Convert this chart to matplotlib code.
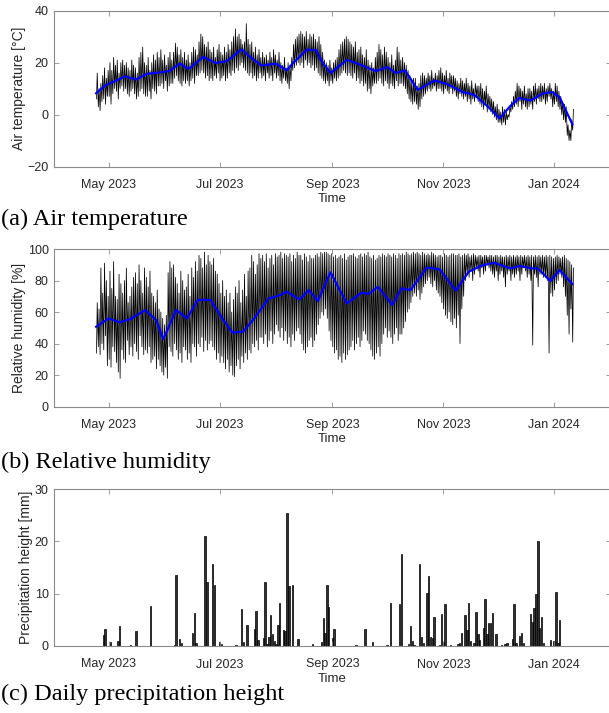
import numpy as np
import pandas as pd
import matplotlib
matplotlib.use("Agg")
import matplotlib.pyplot as plt
import matplotlib.dates as mdates

START = "2023-04-24"

# daily air temperature maximum / minimum [degC], Apr 24 2023 .. Jan 11 2024
temp_max = [
    16, 10, 12, 15, 18, 14, 17,
    20, 17, 22, 19, 21, 16, 20,
    21, 19, 20, 18, 17, 21, 19,
    18, 16, 22, 24, 26, 20, 19,
    22, 17, 20, 23, 21, 24, 22,
    25, 21, 23, 19, 22, 24, 21,
    24, 27.5, 26, 23, 25, 22, 24,
    21, 23, 20, 24, 26, 25, 23,
    28, 31, 30, 27, 26, 28, 25,
    24, 26, 22, 25, 27, 24, 23,
    26, 24, 27, 25, 28, 30, 33,
    30, 31, 29, 27, 28, 35, 29,
    27, 28, 24, 26, 23, 25, 22,
    24, 22, 23, 21, 24, 22, 25,
    23, 21, 24, 20, 19, 22, 18,
    20, 19, 22, 27, 29, 30, 31,
    32, 31, 30, 32, 29, 31, 30,
    31, 29, 28, 30, 27, 24, 21,
    20, 19, 21, 18, 20, 21, 22,
    25, 27, 28, 29, 30, 29, 28,
    27, 26, 28, 24, 25, 26, 23,
    22, 25, 21, 19, 20, 18, 22,
    24, 27, 25, 23, 26, 24, 22,
    20, 23, 19, 21, 26, 24, 21,
    22, 20, 19, 17, 15, 13, 14,
    14, 11, 12, 15, 16, 15, 14,
    16, 15, 17, 14, 16, 15, 17,
    18, 16, 15, 17, 14, 16, 15,
    15, 14, 13, 12, 14, 13, 12,
    14, 12, 11, 13, 10, 12, 11,
    11, 12, 10, 9, 11, 8, 7,
    6, 5, 3, 4, 2, 1, 3,
    2, 1, 0, 3, 5, 7, 9,
    12, 11, 10, 9, 11, 8, 10,
    10, 9, 11, 12, 10, 11, 12,
    11, 12, 10, 11, 12, 10, 9,
    12, 11, 9, 7, 5, 4, 3,
    -4, -6, -2, 2,
]
temp_min = [
    6, 3, 1.5, 5, 6, 4, 7,
    7, 4, 8, 10, 9, 6, 10,
    11, 9, 10, 8, 7, 9, 10,
    8, 6, 7, 9, 10, 8, 7,
    7, 9, 6, 10, 9, 8, 11,
    11, 12, 10, 13, 9, 11, 12,
    12, 14, 15, 13, 12, 11, 13,
    12, 13, 11, 13, 14, 12, 15,
    15, 16, 17, 16, 14, 15, 13,
    14, 13, 15, 14, 16, 13, 14,
    15, 13, 14, 16, 15, 17, 16,
    18, 17, 19, 20, 18, 17, 16,
    15, 16, 14, 15, 13, 14, 16,
    14, 15, 13, 16, 14, 15, 13,
    16, 14, 15, 13, 12, 14, 13,
    12, 10, 13, 17, 18, 19, 20,
    19, 20, 18, 21, 19, 20, 18,
    19, 17, 18, 16, 15, 14, 13,
    12, 13, 11, 13, 12, 14, 13,
    14, 15, 16, 17, 16, 15, 16,
    15, 14, 16, 13, 14, 12, 13,
    11, 12, 9, 10, 8, 11, 12,
    12, 13, 14, 12, 11, 13, 12,
    10, 12, 11, 10, 13, 11, 12,
    12, 11, 10, 8, 6, 5, 4,
    5, 4, 2, 3, 6, 7, 8,
    9, 10, 9, 10, 11, 9, 10,
    10, 9, 8, 10, 9, 8, 10,
    8, 9, 7, 6, 8, 7, 6,
    7, 5, 6, 4, 6, 5, 7,
    5, 4, 3, 2, 4, 1, 2,
    1, 0, -1, -2, -3, -3, -4,
    -3, -4, -2, -1, 1, 2, 3,
    4, 3, 5, 2, 4, 3, 2,
    3, 4, 2, 5, 4, 6, 5,
    5, 6, 4, 5, 7, 6, 3,
    4, 5, 3, 2, 0, -2, -3,
    -8, -10, -10, -6,
]
# smoothed air temperature (blue line)
temp_smooth_dates = [
    "2023-04-24", "2023-04-29", "2023-05-05", "2023-05-10", "2023-05-16",
    "2023-05-22", "2023-05-29", "2023-06-03", "2023-06-09", "2023-06-14",
    "2023-06-22", "2023-06-29", "2023-07-05", "2023-07-13", "2023-07-19",
    "2023-07-24", "2023-08-01", "2023-08-07", "2023-08-10", "2023-08-18",
    "2023-08-23", "2023-08-27", "2023-08-31", "2023-09-09", "2023-09-16",
    "2023-09-25", "2023-10-01", "2023-10-06", "2023-10-11", "2023-10-18",
    "2023-10-27", "2023-11-03", "2023-11-12", "2023-11-18", "2023-11-26",
    "2023-12-02", "2023-12-08", "2023-12-13", "2023-12-19", "2023-12-26",
    "2023-12-31", "2024-01-04", "2024-01-11",
]
temp_smooth = [
    8.2, 11.2, 13.1, 14.7, 13.5, 15.7, 16.2, 16.7, 19.6, 17.6,
    22.2, 19.8, 20.6, 25.1, 21.5, 18.9, 19.6, 17.0, 19.6, 25.0,
    24.8, 19.6, 16.0, 21.1, 19.3, 16.7, 18.3, 16.0, 17.0, 9.5,
    13.1, 11.8, 8.6, 7.6, 2.8, -1.5, 3.4, 6.4, 5.4, 8.2,
    8.6, 6.7, -3.7,
]

# daily relative humidity maximum / minimum [%]
rh_max = [
    66, 62, 88, 72, 91, 80, 70,
    86, 75, 92, 70, 68, 84, 78,
    72, 80, 88, 66, 70, 76, 82,
    85, 78, 90, 80, 72, 88, 82,
    76, 86, 72, 70, 66, 74, 62,
    60, 56, 52, 58, 85, 92, 88,
    90, 82, 78, 72, 86, 80, 74,
    76, 84, 70, 88, 82, 92, 86,
    96, 94, 88, 98, 90, 96, 92,
    90, 94, 86, 84, 78, 72, 80,
    70, 74, 66, 72, 60, 68, 76,
    72, 80, 66, 74, 84, 70, 86,
    88, 96, 92, 84, 90, 97, 94,
    96, 92, 97, 88, 94, 96, 90,
    97, 95, 96, 98, 94, 97, 96,
    95, 97, 92, 96, 94, 98, 96,
    96, 93, 97, 95, 92, 96, 94,
    94, 96, 97, 95, 98, 97, 98,
    98, 97, 96, 97, 95, 96, 94,
    95, 96, 94, 97, 93, 95, 96,
    96, 97, 95, 94, 96, 97, 95,
    97, 96, 98, 95, 94, 96, 93,
    94, 96, 95, 97, 96, 95, 97,
    96, 95, 97, 96, 94, 97, 96,
    97, 96, 98, 97, 96, 97, 98,
    97, 98, 97, 96, 98, 97, 96,
    97, 96, 98, 97, 96, 95, 96,
    96, 95, 97, 96, 95, 96, 97,
    97, 96, 96, 97, 95, 96, 97,
    96, 97, 95, 96, 97, 96, 95,
    96, 96, 95, 96, 96, 95, 96,
    96, 95, 96, 96, 95, 96, 95,
    95, 96, 95, 96, 95, 96, 95,
    96, 95, 96, 95, 96, 95, 96,
    95, 96, 95, 96, 95, 96, 95,
    96, 95, 96, 95, 96, 95, 94,
    95, 96, 95, 94, 95, 96, 94,
    93, 92, 90, 88,
]
rh_min = [
    34, 38, 33, 40, 36, 45, 26,
    30, 25, 38, 35, 28, 22, 18,
    36, 30, 28, 42, 33, 38, 32,
    40, 35, 30, 45, 38, 33, 36,
    34, 38, 28, 30, 32, 24, 30,
    26, 22, 20, 25, 18, 38, 35,
    32, 40, 36, 30, 34, 28, 38,
    36, 30, 34, 28, 40, 38, 32,
    40, 38, 44, 35, 42, 36, 40,
    42, 38, 36, 30, 34, 28, 32,
    28, 24, 30, 22, 26, 20, 19,
    26, 30, 24, 32, 28, 34, 30,
    36, 34, 40, 38, 42, 36, 44,
    44, 40, 46, 38, 42, 48, 40,
    46, 52, 48, 44, 50, 42, 48,
    40, 44, 38, 46, 42, 48, 50,
    46, 40, 36, 34, 38, 42, 44,
    38, 42, 46, 52, 56, 60, 58,
    62, 56, 48, 42, 38, 34, 36,
    30, 32, 28, 34, 30, 33, 36,
    38, 42, 36, 40, 44, 38, 42,
    48, 46, 42, 40, 36, 32, 30,
    34, 38, 32, 40, 46, 50, 44,
    48, 44, 40, 46, 50, 42, 46,
    46, 50, 54, 60, 62, 66, 70,
    72, 70, 74, 68, 72, 76, 78,
    80, 82, 78, 76, 80, 74, 72,
    70, 66, 62, 58, 56, 60, 54,
    52, 56, 50, 58, 40, 62, 70,
    80, 84, 82, 86, 80, 84, 88,
    86, 82, 88, 84, 86, 90, 88,
    86, 84, 82, 86, 80, 84, 86,
    82, 76, 84, 86, 80, 84, 82,
    84, 86, 80, 84, 88, 86, 82,
    84, 80, 39, 84, 82, 76, 84,
    84, 82, 82, 80, 34, 72, 70,
    74, 78, 80, 84, 82, 76, 70,
    58, 46, 62, 41,
]
rh_smooth_dates = [
    "2023-04-24", "2023-05-01", "2023-05-07", "2023-05-13", "2023-05-21",
    "2023-05-27", "2023-05-31", "2023-06-07", "2023-06-13", "2023-06-19",
    "2023-06-26", "2023-07-03", "2023-07-08", "2023-07-14", "2023-07-20",
    "2023-07-28", "2023-08-02", "2023-08-07", "2023-08-14", "2023-08-19",
    "2023-08-24", "2023-08-31", "2023-09-05", "2023-09-09", "2023-09-17",
    "2023-09-21", "2023-09-26", "2023-10-04", "2023-10-09", "2023-10-14",
    "2023-10-23", "2023-10-30", "2023-11-08", "2023-11-15", "2023-11-22",
    "2023-11-29", "2023-12-08", "2023-12-13", "2023-12-20", "2023-12-23",
    "2023-12-30", "2024-01-04", "2024-01-11",
]
rh_smooth = [
    50.7, 56.0, 53.5, 55.6, 61.3, 55.0, 42.9, 61.3, 56.0, 67.7,
    67.7, 55.0, 47.0, 47.6, 56.0, 68.7, 70.2, 72.9, 68.0, 74.0,
    67.0, 85.2, 74.0, 65.5, 72.3, 71.5, 76.1, 64.5, 75.0, 74.0,
    88.2, 87.1, 73.6, 85.6, 89.4, 91.3, 87.7, 89.2, 87.7, 87.7,
    79.7, 86.7, 77.8,
]

# daily precipitation height [mm] (days without rain omitted)
precip_dates = [
    "2023-04-28", "2023-04-29", "2023-05-02", "2023-05-06", "2023-05-07",
    "2023-05-13", "2023-05-16", "2023-05-24", "2023-06-06", "2023-06-07",
    "2023-06-09", "2023-06-10", "2023-06-16", "2023-06-17", "2023-06-18",
    "2023-06-23", "2023-06-24", "2023-06-27", "2023-06-28", "2023-07-01",
    "2023-07-02", "2023-07-10", "2023-07-13", "2023-07-14", "2023-07-16",
    "2023-07-20", "2023-07-21", "2023-07-22", "2023-07-25", "2023-07-26",
    "2023-07-27", "2023-07-28", "2023-07-29", "2023-07-30", "2023-07-31",
    "2023-08-01", "2023-08-02", "2023-08-03", "2023-08-05", "2023-08-06",
    "2023-08-07", "2023-08-08", "2023-08-10", "2023-08-13", "2023-08-21",
    "2023-08-26", "2023-08-27", "2023-08-28", "2023-08-29", "2023-08-30",
    "2023-09-01", "2023-09-02", "2023-09-14", "2023-09-19", "2023-09-23",
    "2023-10-01", "2023-10-03", "2023-10-08", "2023-10-09", "2023-10-13",
    "2023-10-14", "2023-10-15", "2023-10-16", "2023-10-19", "2023-10-20",
    "2023-10-21", "2023-10-23", "2023-10-24", "2023-10-25", "2023-10-26",
    "2023-10-27", "2023-10-30", "2023-10-31", "2023-11-01", "2023-11-02",
    "2023-11-05", "2023-11-09", "2023-11-10", "2023-11-11", "2023-11-13",
    "2023-11-14", "2023-11-15", "2023-11-16", "2023-11-18", "2023-11-19",
    "2023-11-20", "2023-11-21", "2023-11-23", "2023-11-24", "2023-11-25",
    "2023-11-26", "2023-11-27", "2023-11-28", "2023-11-30", "2023-12-03",
    "2023-12-05", "2023-12-06", "2023-12-09", "2023-12-10", "2023-12-11",
    "2023-12-13", "2023-12-14", "2023-12-15", "2023-12-19", "2023-12-20",
    "2023-12-21", "2023-12-22", "2023-12-23", "2023-12-24", "2023-12-25",
    "2023-12-26", "2023-12-30", "2024-01-01", "2024-01-02", "2024-01-03",
    "2024-01-04",
]
precip = [
    2.1, 3.2, 0.8, 1.0, 3.9,
    0.2, 2.9, 7.6, 0.2, 13.6,
    1.3, 0.6, 2.4, 6.4, 0.5,
    21.0, 12.3, 15.6, 11.7, 0.8,
    0.4, 0.2, 7.0, 0.8, 4.0,
    3.2, 6.6, 1.1, 1.5, 12.3,
    0.4, 1.7, 5.9, 2.3, 1.0,
    0.4, 4.1, 8.2, 3.0, 2.8,
    25.5, 11.5, 11.7, 1.3, 0.4,
    0.7, 5.4, 2.5, 11.6, 7.4,
    1.5, 3.3, 0.2, 3.3, 0.8,
    0.2, 8.3, 8.0, 17.5, 0.4,
    3.9, 1.0, 0.2, 15.6, 1.8,
    0.6, 10.1, 13.4, 1.7, 1.6,
    5.5, 0.2, 6.1, 0.8, 8.0,
    0.2, 0.3, 0.5, 2.4, 5.9,
    3.1, 8.3, 1.0, 0.5, 6.5,
    2.3, 1.1, 3.4, 8.9, 2.2,
    4.3, 4.3, 6.4, 2.2, 0.2,
    0.4, 0.6, 1.3, 8.1, 0.5,
    1.9, 2.5, 0.6, 6.1, 4.5,
    7.3, 9.9, 20.1, 3.4, 5.5,
    0.5, 1.2, 0.9, 10.3, 0.5,
    5.0,
]

panel_titles = ["(a) Air temperature", "(b) Relative humidity",
                "(c) Daily precipitation height"]
y_labels = ["Air temperature [\u00b0C]", "Relative humidity [%]",
            "Precipitation height [mm]"]
y_limits = [(-20, 40), (0, 100), (0, 30)]
y_ticks = [[-20, 0, 20, 40], [0, 20, 40, 60, 80, 100], [0, 10, 20, 30]]
x_limits = ("2023-04-01", "2024-02-01")

SANS = ["Liberation Sans", "DejaVu Sans"]
SERIF = ["Liberation Serif", "DejaVu Serif"]
plt.rcParams["font.family"] = SANS
TXT = "#262626"
AXC = "#8a8a8a"

W, H = 609, 713
fig = plt.figure(figsize=(W / 100, H / 100), dpi=100)


def frac_axes(top_px, bottom_px, left_px=54.3, right_px=610.5):
    return fig.add_axes([left_px / W, 1 - bottom_px / H,
                         (right_px - left_px) / W, (bottom_px - top_px) / H])


axes = [frac_axes(10.7, 166.5), frac_axes(249.0, 406.7), frac_axes(489.0, 646.0)]


def zigzag(mins, maxs):
    days = pd.date_range(START, periods=len(mins), freq="D")
    t = np.empty(2 * len(days), dtype="datetime64[ns]")
    v = np.empty(2 * len(days))
    t[0::2] = (days + pd.Timedelta(hours=5)).values
    t[1::2] = (days + pd.Timedelta(hours=15)).values
    v[0::2] = mins
    v[1::2] = maxs
    return t, v


# (a) temperature
t, v = zigzag(temp_min, temp_max)
axes[0].plot(t, v, color="black", lw=0.55)
axes[0].plot(pd.to_datetime(temp_smooth_dates), temp_smooth, color="#0000ff", lw=1.6)

# (b) humidity
t, v = zigzag(rh_min, rh_max)
axes[1].plot(t, v, color="black", lw=0.55)
axes[1].plot(pd.to_datetime(rh_smooth_dates), rh_smooth, color="#0000ff", lw=1.6)

# (c) precipitation
axes[2].bar(pd.to_datetime(precip_dates), precip, width=0.8, color="#303030",
            edgecolor="black", linewidth=0.5)

for i, ax in enumerate(axes):
    ax.set_xlim(pd.Timestamp(x_limits[0]), pd.Timestamp(x_limits[1]))
    ax.set_ylim(*y_limits[i])
    ax.set_yticks(y_ticks[i])
    ax.xaxis.set_major_locator(mdates.MonthLocator(bymonth=[1, 5, 7, 9, 11]))
    ax.xaxis.set_major_formatter(mdates.DateFormatter("%b %Y"))
    ax.tick_params(direction="in", top=True, right=True, length=3.8, width=0.6,
                   color=AXC, labelcolor=TXT, labelsize=9)
    ax.tick_params(axis="x", pad=9)
    ax.tick_params(axis="y", pad=4)
    for s in ax.spines.values():
        s.set_color(AXC)
        s.set_linewidth(0.8)
    ax.set_xlabel("Time", fontsize=9.5, color=TXT, labelpad=1.5)
    ax.set_ylabel(y_labels[i], fontsize=10, color=TXT, labelpad=1.0)

cap_y = [219, 462, 694]
for txt, y in zip(panel_titles, cap_y):
    fig.text(0.002, 1 - y / H, txt, family=SERIF, fontsize=17.5, color="black",
             va="center", ha="left")

fig.savefig("out.png", dpi=100)
